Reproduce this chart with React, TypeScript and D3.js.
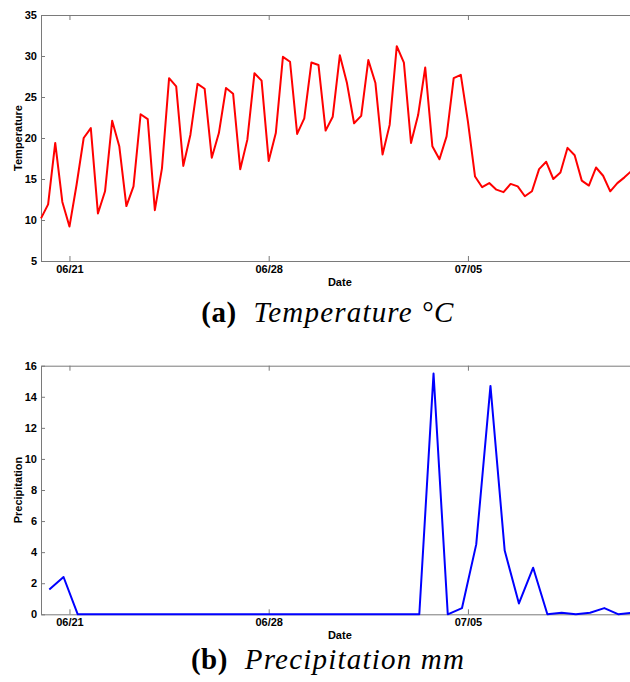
import React, { useRef, useEffect } from 'react';
import * as d3 from 'd3';

// temperature readings every 6 hours starting 06/20 00:00
const tempStart = new Date(2013, 5, 20, 0);
const tempStepHours = 6;
const temperature = [
  10.2, 11.9, 19.4, 12.2, 9.2, 14.3, 20.0, 21.2, 10.8, 13.5, 22.1, 19.0,
  11.7, 14.1, 22.9, 22.3, 11.2, 16.3, 27.3, 26.3, 16.6, 20.4, 26.6, 26.0,
  17.6, 20.6, 26.1, 25.4, 16.2, 19.8, 27.9, 27.0, 17.2, 20.6, 29.9, 29.3,
  20.5, 22.4, 29.2, 28.9, 20.9, 22.6, 30.1, 26.7, 21.8, 22.7, 29.5, 26.7,
  18.0, 21.6, 31.2, 29.2, 19.4, 22.8, 28.6, 19.0, 17.4, 20.2, 27.3, 27.7,
  22.0, 15.3, 14.0, 14.5, 13.7, 13.4, 14.4, 14.1, 12.9, 13.5, 16.2, 17.1,
  15.0, 15.8, 18.8, 17.9, 14.8, 14.2, 16.4, 15.4, 13.5, 14.5, 15.2, 16.0,
];

// precipitation every 12 hours starting 06/20 07:00
const precipStart = new Date(2013, 5, 20, 7);
const precipStepHours = 12;
const precipitation = [
  1.6, 2.4, 0, 0, 0, 0, 0, 0, 0, 0, 0, 0, 0, 0, 0, 0, 0, 0, 0, 0, 0, 0, 0,
  0, 0, 0, 0, 15.5, 0, 0.4, 4.5, 14.7, 4.1, 0.7, 3.0, 0, 0.1, 0, 0.1, 0.4,
  0, 0.1,
];

const xDomain = [new Date(2013, 5, 20), new Date(2013, 6, 11)];
const dateTicks = [new Date(2013, 5, 21), new Date(2013, 5, 28), new Date(2013, 6, 5)];
const tempTicks = [5, 10, 15, 20, 25, 30, 35];
const precipTicks = [0, 2, 4, 6, 8, 10, 12, 14, 16];

const toSeries = (start, stepHours, values) =>
  values.map((v, i) => ({ date: d3.timeHour.offset(start, i * stepHours), value: v }));

const App = () => {
  const svgRef = useRef();

  useEffect(() => {
    const svg = d3.select(svgRef.current);
    svg.selectAll('*').remove();

    const left = 41;
    const right = 638.7;
    const axisColor = '#7a7a7a';

    const xScale = d3.scaleTime().domain(xDomain).range([left, right]);

    const drawPanel = (opts) => {
      const { top, bottom, yDomain, yTicks, data, color, yLabel } = opts;
      const yScale = d3.scaleLinear().domain(yDomain).range([bottom, top]);
      const g = svg.append('g');

      // axes, ticks pointing inwards
      const styleAxis = (sel) => {
        sel.selectAll('path').attr('stroke', axisColor);
        sel.selectAll('line').attr('stroke', axisColor);
        sel
          .selectAll('text')
          .attr('fill', '#000')
          .style('font-family', '"Liberation Sans", Arial, sans-serif')
          .style('font-weight', 'bold')
          .style('font-size', '11px');
      };

      g.append('g')
        .attr('transform', `translate(${left},0)`)
        .call(d3.axisLeft(yScale).tickValues(yTicks).tickSize(-4).tickSizeOuter(0).tickPadding(4))
        .call(styleAxis);

      g.append('g')
        .attr('transform', `translate(0,${bottom})`)
        .call(
          d3
            .axisBottom(xScale)
            .tickValues(dateTicks)
            .tickFormat(d3.timeFormat('%m/%d'))
            .tickSize(-5)
            .tickSizeOuter(0)
            .tickPadding(4)
        )
        .call(styleAxis);

      g.append('g')
        .attr('transform', `translate(0,${top})`)
        .call(d3.axisTop(xScale).tickValues(dateTicks).tickFormat('').tickSize(-5).tickSizeOuter(0))
        .call(styleAxis);

      // data line
      const line = d3
        .line()
        .x((d) => xScale(d.date))
        .y((d) => yScale(d.value));

      g.append('path')
        .datum(data)
        .attr('d', line)
        .attr('fill', 'none')
        .attr('stroke', color)
        .attr('stroke-width', 2)
        .attr('stroke-linejoin', 'round');

      // axis labels
      g.append('text')
        .text(yLabel)
        .attr('transform', `translate(22,${(top + bottom) / 2}) rotate(-90)`)
        .attr('text-anchor', 'middle')
        .style('font-family', '"Liberation Sans", Arial, sans-serif')
        .style('font-weight', 'bold')
        .style('font-size', '11px');

      g.append('text')
        .text('Date')
        .attr('x', (left + right) / 2)
        .attr('y', bottom + 25)
        .attr('text-anchor', 'middle')
        .style('font-family', '"Liberation Sans", Arial, sans-serif')
        .style('font-weight', 'bold')
        .style('font-size', '11px');
    };

    drawPanel({
      top: 15,
      bottom: 261,
      yDomain: [5, 35],
      yTicks: tempTicks,
      data: toSeries(tempStart, tempStepHours, temperature),
      color: '#ff0000',
      yLabel: 'Temperature',
    });

    drawPanel({
      top: 365.7,
      bottom: 614.3,
      yDomain: [0, 16],
      yTicks: precipTicks,
      data: toSeries(precipStart, precipStepHours, precipitation),
      color: '#0000ff',
      yLabel: 'Precipitation',
    });

    // captions (latex-like: bold tag, italic body)
    const caption = (y, tag, body) => {
      const t = svg
        .append('text')
        .attr('x', 328)
        .attr('y', y)
        .attr('text-anchor', 'middle')
        .style('font-family', '"Liberation Serif", "Times New Roman", serif')
        .style('font-size', '29px');
      t.append('tspan').text(tag).style('font-weight', 'bold').style('letter-spacing', '0.5px');
      t.append('tspan')
        .text('\u00a0\u00a0' + body)
        .style('font-style', 'italic')
        .style('letter-spacing', '1.2px');
    };
    caption(322, '(a)', 'Temperature \u00b0C');
    caption(669, '(b)', 'Precipitation mm');
  }, []);

  return (
    <div>
      <style>{`body { margin: 0; }`}</style>
      <svg ref={svgRef} width={630} height={682} style={{ display: 'block', background: '#fff' }}></svg>
    </div>
  );
};

export default App;
